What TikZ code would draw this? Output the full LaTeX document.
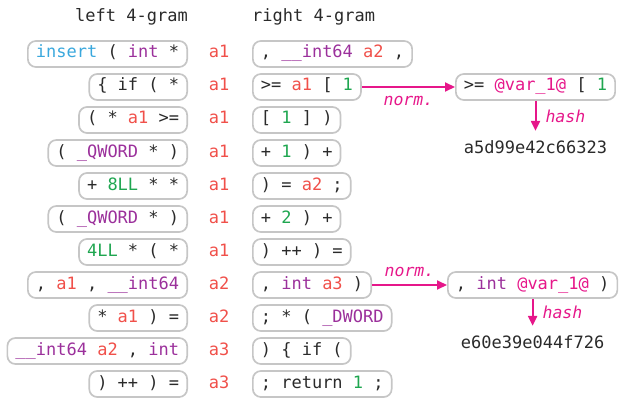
\documentclass[tikz,border=0pt]{standalone}
\usepackage{fontspec}
\setmonofont{DejaVu Sans Mono}
\usetikzlibrary{arrows.meta}
\definecolor{kwc}{HTML}{9B309B}
\definecolor{varc}{HTML}{F0504A}
\definecolor{numc}{HTML}{1FA650}
\definecolor{fnc}{HTML}{3AA8DD}
\definecolor{pinkc}{HTML}{E6178A}
\definecolor{boxc}{HTML}{C6C6C6}
\definecolor{txtc}{HTML}{2A2A2A}
\newcommand\kw[1]{\textcolor{kwc}{#1}}
\newcommand\vr[1]{\textcolor{varc}{#1}}
\newcommand\nm[1]{\textcolor{numc}{#1}}
\newcommand\fn[1]{\textcolor{fnc}{#1}}
\newcommand\pv[1]{\textcolor{pinkc}{#1}}
\tikzset{
  x=1pt, y=-1pt,
  mono/.style={font=\ttfamily\fontsize{17}{20}\selectfont, text=txtc},
  gbox/.style={mono, draw=boxc, line width=1.7pt, rounded corners=8pt,
    inner xsep=8pt, inner ysep=0pt, minimum height=26pt,
    text height=11.5pt, text depth=3.5pt},
  anc/.style={mono, text=varc, inner sep=0pt, text height=11.5pt, text depth=3.5pt},
  hdr/.style={mono, inner sep=0pt},
  hashtxt/.style={mono, inner xsep=0pt, inner ysep=9pt},
  parr/.style={draw=pinkc, line width=2pt, -{Triangle[length=10pt,width=9pt]}},
  plab/.style={font=\ttfamily\itshape\fontsize{16.5}{19}\selectfont, text=pinkc, inner sep=0pt},
}
\begin{document}
\begin{tikzpicture}
\useasboundingbox (0,0) rectangle (620,401);
% headers
\node[hdr, anchor=base east] (hl) at (188,22) {left 4-gram};
\node[hdr, anchor=base west] (hr) at (252,22) {right 4-gram};
% left 4-grams
\node[gbox, anchor=east] (l1) at (188,54) {\fn{insert} ( \kw{int} *};
\node[gbox, anchor=east] (l2) at (188,87) {\{ if ( *};
\node[gbox, anchor=east] (l3) at (188,120) {( * \vr{a1} >=};
\node[gbox, anchor=east] (l4) at (188,153) {( \kw{\_QWORD} * )};
\node[gbox, anchor=east] (l5) at (188,186) {+ \nm{8LL} * *};
\node[gbox, anchor=east] (l6) at (188,219) {( \kw{\_QWORD} * )};
\node[gbox, anchor=east] (l7) at (188,252) {\nm{4LL} * ( *};
\node[gbox, anchor=east] (l8) at (188,285) {, \vr{a1} , \kw{\_\_int64}};
\node[gbox, anchor=east] (l9) at (188,318) {* \vr{a1} ) =};
\node[gbox, anchor=east] (l10) at (188,351) {\kw{\_\_int64} \vr{a2} , \kw{int}};
\node[gbox, anchor=east] (l11) at (188,384) {) ++ ) =};
% anchors
\node[anc] (c1) at (219,54) {a1};
\node[anc] (c2) at (219,87) {a1};
\node[anc] (c3) at (219,120) {a1};
\node[anc] (c4) at (219,153) {a1};
\node[anc] (c5) at (219,186) {a1};
\node[anc] (c6) at (219,219) {a1};
\node[anc] (c7) at (219,252) {a1};
\node[anc] (c8) at (219,285) {a2};
\node[anc] (c9) at (219,318) {a2};
\node[anc] (c10) at (219,351) {a3};
\node[anc] (c11) at (219,384) {a3};
% right 4-grams
\node[gbox, anchor=west] (r1) at (252,54) {, \kw{\_\_int64} \vr{a2} ,};
\node[gbox, anchor=west] (r2) at (252,87) {>= \vr{a1} [ \nm{1}};
\node[gbox, anchor=west] (r3) at (252,120) {[ \nm{1} ] )};
\node[gbox, anchor=west] (r4) at (252,153) {+ \nm{1} ) +};
\node[gbox, anchor=west] (r5) at (252,186) {) = \vr{a2} ;};
\node[gbox, anchor=west] (r6) at (252,219) {+ \nm{2} ) +};
\node[gbox, anchor=west] (r7) at (252,252) {) ++ ) =};
\node[gbox, anchor=west] (r8) at (252,285) {, \kw{int} \vr{a3} )};
\node[gbox, anchor=west] (r9) at (252,318) {; * ( \kw{\_DWORD}};
\node[gbox, anchor=west] (r10) at (252,351) {) \{ if (};
\node[gbox, anchor=west] (r11) at (252,384) {; return \nm{1} ;};
% normalized
\node[gbox, anchor=west] (n1) at (455,87) {>= \pv{@var\_1@} [ \nm{1}};
\node[gbox, anchor=west] (n2) at (447,285) {, \kw{int} \pv{@var\_1@} )};
\node[hashtxt, anchor=base] (h1) at (n1.south |- 0,153) {a5d99e42c66323};
\node[hashtxt, anchor=base] (h2) at (n2.south |- 0,348) {e60e39e044f726};
% arrows
\draw[parr] (r2.east) -- (n1.west) node[plab, midway, yshift=-14pt] {norm.};
\draw[parr] (r8.east) -- (n2.west) node[plab, midway, yshift=13pt] {norm.};
\draw[parr] (n1.south) -- (h1.north) node[plab, midway, anchor=west, xshift=9pt] {hash};
\draw[parr] (n2.south) -- (h2.north) node[plab, midway, anchor=west, xshift=9pt] {hash};
\end{tikzpicture}
\end{document}
